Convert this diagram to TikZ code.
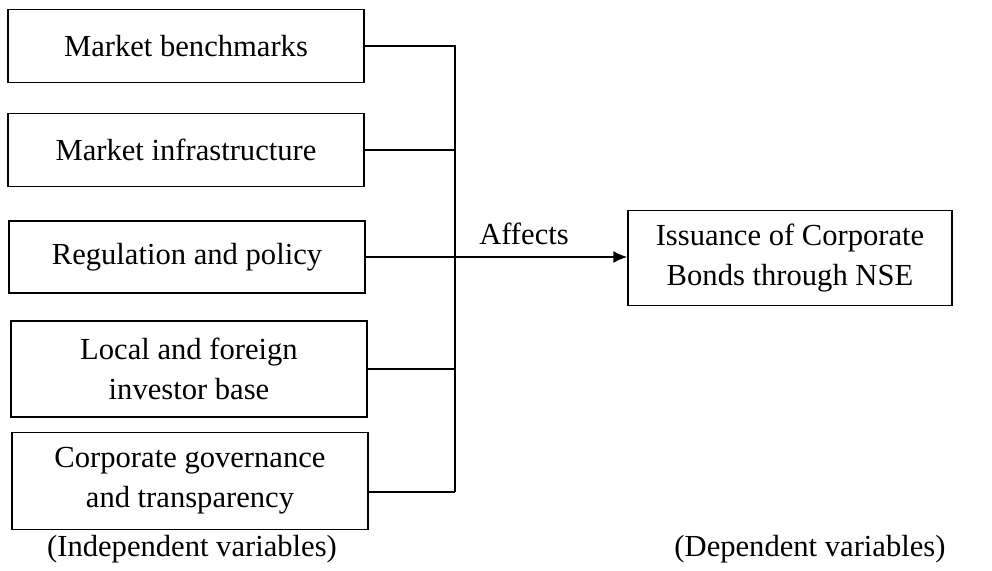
\documentclass[tikz,border=0pt]{standalone}
\usepackage{fontspec}
\setmainfont{Liberation Serif}
\usetikzlibrary{positioning, arrows.meta}

\begin{document}
\begin{tikzpicture}[
    x=0.5pt, y=-0.5pt, line width=0.75pt,
    font=\fontsize{15.3}{20}\selectfont,
    varbox/.style={draw, rectangle, align=center, minimum width=178pt, inner sep=0},
    link/.style={-},
    flow/.style={-{Latex[length=7pt, width=6pt]}},
  ]
  \useasboundingbox (0, 0) rectangle (992, 571);

  \node[varbox, minimum height=36.5pt] (bench) at (186, 46) {Market benchmarks};
  \node[varbox, minimum height=36.5pt] (infra) at (186, 150) {Market infrastructure};
  \node[varbox, minimum height=36pt] (reg) at (187, 257) {Regulation and policy};
  \node[varbox, minimum height=48pt] (base) at (189, 369) {Local and foreign\\investor base};
  \node[varbox, minimum height=48.5pt] (gov) at (190, 481) {Corporate governance\\and transparency};

  \node[varbox, minimum width=162pt, minimum height=47.5pt] (bonds) at (790, 258) {Issuance of Corporate\\Bonds through NSE};

  \coordinate (bustop) at (455, 46);
  \coordinate (busbot) at (455, 492);
  \draw[link] (bench.east) -- (bustop) -- (busbot);
  \draw[link] (infra.east) -- (infra.east -| bustop);
  \draw[link] (base.east) -- (base.east -| bustop);
  \draw[link] ([yshift=-5.5pt]gov.east) -- (busbot);
  \draw[flow] (reg.east) -- (bonds.west |- reg.east);
  \node (aff) at (524, 234) {Affects};

  \node (indep) at (192, 549) {(Independent variables)};
  \node (dep) at (810, 549) {(Dependent variables)};

\end{tikzpicture}
\end{document}
